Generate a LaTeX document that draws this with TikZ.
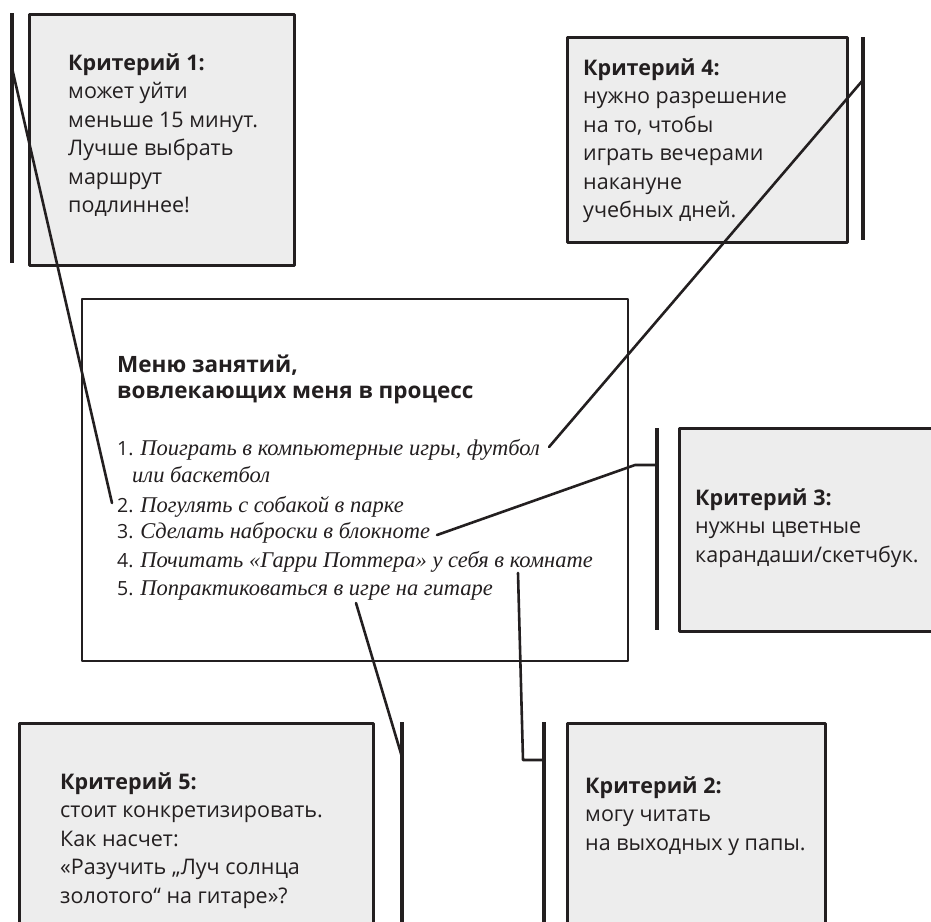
\documentclass[tikz,border=0pt]{standalone}
\usepackage{fontspec}
\setmainfont{Open Sans}
\newfontfamily\handfont{Liberation Serif}
\usetikzlibrary{calc,positioning}
\definecolor{boxgray}{HTML}{EDEDED}
\definecolor{ink}{HTML}{231F20}
\newcommand{\numf}{\fontsize{19.5}{20}\selectfont}
\newcommand{\hand}{\fontsize{22.5}{24}\handfont\itshape}

\begin{document}
\begin{tikzpicture}[x=1pt,y=-1pt,line join=round,line cap=round,
  critbox/.style={draw=ink,line width=2.8pt,fill=boxgray,anchor=north west,inner sep=0pt},
  menubox/.style={draw=ink,line width=2pt,fill=white,anchor=north west,inner sep=0pt},
  crittext/.style={anchor=base west,align=left,inner sep=0pt,text=ink,font=\fontsize{21.5}{28.5}\selectfont},
  bar/.style={draw=ink,line width=3.3pt,line cap=butt},
  link/.style={draw=ink,line width=2.6pt},
  item/.style={anchor=base west,inner sep=0pt,text=ink}]
\useasboundingbox (0,0) rectangle (931,921);
\foreach \n/\x/\y/\w/\h in {k1/28/13/265/251,k4/566/36/280/205,k3/678/427/300/203,k5/18/722/354/250,k2/566/722/258/250}{\node[critbox,minimum width=\w pt,minimum height=\h pt] (\n) at (\x,\y) {};}
\node[menubox,minimum width=546pt,minimum height=362pt] (menu) at (81,298) {};
\foreach \n/\x/\ya/\yb in {1/12/13/263,4/863/37/240,3/657/428/630,5/402/722/930,2/544/722/930}{\coordinate (t\n) at (\x,\ya); \coordinate (u\n) at (\x,\yb); \draw[bar] (t\n)--(u\n);}
\node[crittext] (x1) at (68,212.5) {\textbf{Критерий 1:}\\может уйти\\меньше 15 минут.\\Лучше выбрать\\маршрут\\подлиннее!};
\node[crittext] (x4) at (583,217.5) {\textbf{Критерий 4:}\\нужно разрешение\\на то, чтобы\\играть вечерами\\накануне\\учебных дней.};
\node[crittext] (x3) at (695,562) {\textbf{Критерий 3:}\\нужны цветные\\карандаши/скетчбук.};
\node[crittext] (x5) at (60,903) {\textbf{Критерий 5:}\\стоит конкретизировать.\\Как насчет:\\«Разучить „Луч солнца\\золотого“ на гитаре»?};
\node[crittext] (x2) at (585,850) {\textbf{Критерий 2:}\\могу читать\\на выходных у папы.};
\node[crittext,font=\fontsize{22.5}{26.5}\selectfont\bfseries] (title) at (117,398.5) {Меню занятий,\\вовлекающих меня в процесс};
\node[item] (n1) at (117,455) {\numf 1. \hand Поиграть в компьютерные игры, футбол};
\node[item] (n1b) at (132,482) {\hand или баскетбол};
\node[item] (n2) at (117,512) {\numf 2. \hand Погулять с собакой в парке};
\node[item] (n3) at (117,538) {\numf 3. \hand Сделать наброски в блокноте};
\node[item] (n4) at (117,567) {\numf 4. \hand Почитать «Гарри Поттера» у себя в комнате};
\node[item] (n5) at (117,595) {\numf 5. \hand Попрактиковаться в игре на гитаре};
\coordinate (s1) at (12,68); \coordinate (e1) at (112,503);
\coordinate (s4) at (863,80); \coordinate (e4) at (549,447);
\coordinate (s3) at (657,465); \coordinate (m3) at (635,465); \coordinate (e3) at (437,535);
\coordinate (s5) at (402,757); \coordinate (e5) at (356,603);
\coordinate (s2) at (544,760); \coordinate (m2) at (523,760); \coordinate (e2) at (518,573);
\draw[link] (s1)--(e1) (s4)--(e4) (s5)--(e5);
\draw[link] (s3)--(m3)--(e3);
\draw[link] (s2)--(m2)--(e2);
\end{tikzpicture}
\end{document}
